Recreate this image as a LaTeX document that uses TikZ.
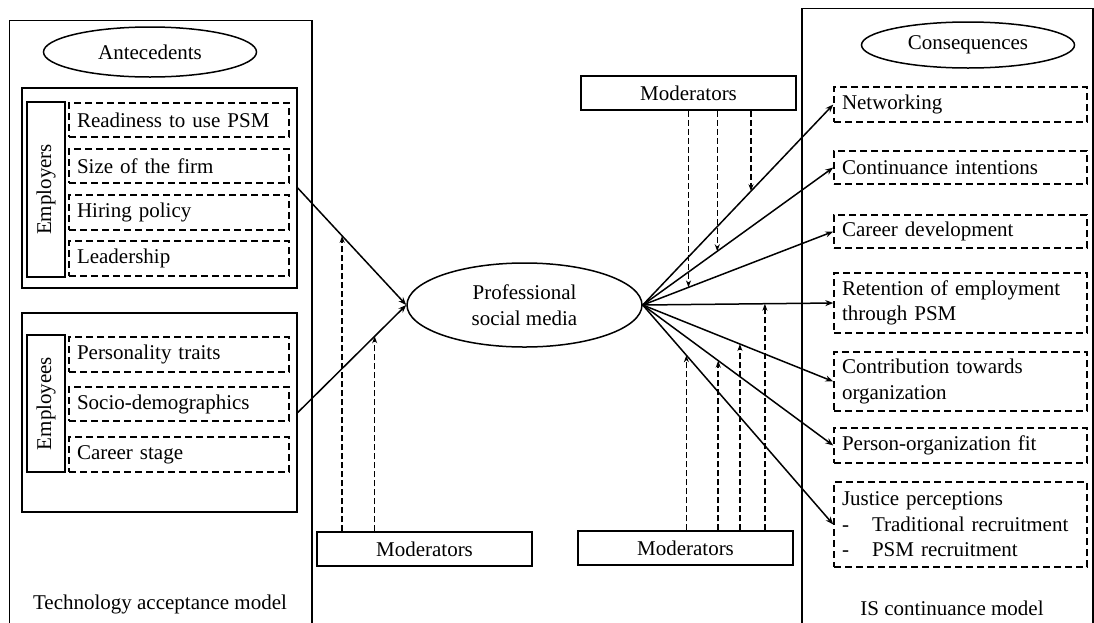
\documentclass[tikz,border=0pt]{standalone}
\usepackage{fontspec}
\setmainfont{Liberation Serif}
\usetikzlibrary{arrows.meta,shapes.geometric}
\begin{document}
\begin{tikzpicture}[x=1pt,y=-1pt,
  every node/.style={font=\fontsize{21}{25.5}\selectfont},
  ln/.style={line width=1.5pt},
  frame/.style={ln, draw, inner sep=0pt},
  oval/.style={ln, draw, ellipse, inner sep=0pt, align=center},
  dbox/.style={draw, line width=1.4pt, dash pattern=on 7pt off 4pt, inner xsep=8pt, inner ysep=0pt, align=left},
  ldbox/.style={dbox, text width=204pt},
  rdbox/.style={dbox, text width=237pt},
  arr/.style={ln, -{Stealth[length=8pt,width=6pt]}},
  darr/.style={line width=1.5pt, dash pattern=on 6pt off 3pt, -{Stealth[length=7pt,width=5pt]}}
]
\useasboundingbox (0,0) rectangle (1094,622);

% outer frames
\draw[ln] (9.5,630) -- (9.5,20.7) -- (312,20.7) -- (312,630);
\draw[ln] (802,630) -- (802,8.5) -- (1093,8.5) -- (1093,630);

% left side
\node[oval, minimum width=213pt, minimum height=50pt] (ante) at (150,52) {Antecedents};
\node[frame, minimum width=275pt, minimum height=200pt] (emprs) at (159.5,188) {};
\node[frame, rotate=90, minimum width=175pt, minimum height=38pt] (emprl) at (46,189.5) {Employers};
\node[ldbox, minimum height=34pt] (r1) at (179,120) {Readiness to use PSM};
\node[ldbox, minimum height=34pt] (r2) at (179,166) {Size of the firm};
\node[ldbox, minimum height=35pt] (r3) at (179,212.5) {Hiring policy};
\node[ldbox, minimum height=35pt] (r4) at (179,258.5) {Leadership};

\node[frame, minimum width=275pt, minimum height=199pt] (empes) at (159.5,412.5) {};
\node[frame, rotate=90, minimum width=137pt, minimum height=38pt] (empel) at (46,403.5) {Employees};
\node[ldbox, minimum height=35pt] (e1) at (179,354.5) {Personality traits};
\node[ldbox, minimum height=34pt] (e2) at (179,404) {Socio-demographics};
\node[ldbox, minimum height=35pt] (e3) at (179,454.5) {Career stage};

\node (tam) at (160,604) {Technology acceptance model};

% centre
\node[oval, minimum width=235pt, minimum height=84pt] (psm) at (524.5,305) {Professional\\social media};
\node[frame, minimum width=215pt, minimum height=34pt] (modbl) at (424.5,549) {Moderators};
\node[frame, minimum width=215pt, minimum height=34pt] (modt) at (688.5,93) {Moderators};
\node[frame, minimum width=215pt, minimum height=34pt] (modbr) at (685.5,548) {Moderators};

% right side
\node[oval, minimum width=213pt, minimum height=46pt] (cons) at (968,45) {Consequences};
\node[rdbox, minimum height=35pt] (c1) at (960.5,104.5) {Networking};
\node[rdbox, minimum height=33pt] (c2) at (960.5,167.5) {Continuance intentions};
\node[rdbox, minimum height=33pt] (c3) at (960.5,231.5) {Career development};
\node[rdbox, minimum height=60pt] (c4) at (960.5,303) {Retention of employment\\through PSM};
\node[rdbox, minimum height=59pt] (c5) at (960.5,381.5) {Contribution towards\\organization};
\node[rdbox, minimum height=35pt] (c6) at (960.5,445.5) {Person-organization fit};
\node[rdbox, minimum height=85pt] (c7) at (960.5,524.5) {Justice perceptions\\\makebox[30pt][l]{-}Traditional recruitment\\\makebox[30pt][l]{-}PSM recruitment};

\node (isc) at (952,608) {IS continuance model};

% main arrows
\draw[arr] (emprs.east) -- coordinate[pos=0.409] (ma1) (psm.west);
\draw[arr] (empes.east) -- coordinate[pos=0.709] (ma2) (psm.west);
\draw[arr] (psm.east) -- coordinate[pos=0.568] (mc1) (c1.west);
\draw[arr] (psm.east) -- coordinate[pos=0.391] (mc2) (c2.west);
\draw[arr] (psm.east) -- coordinate[pos=0.240] (mc3) (c3.west);
\draw[arr] (psm.east) -- coordinate[pos=0.641] (mc4) (c4.west);
\draw[arr] (psm.east) -- coordinate[pos=0.510] (mc5) (c5.west);
\draw[arr] (psm.east) -- coordinate[pos=0.396] (mc6) (c6.west);
\draw[arr] (psm.east) -- coordinate[pos=0.229] (mc7) (c7.west);

% moderator arrows
\draw[darr] (ma1 |- modbl.north) -- (ma1);
\draw[darr] (ma2 |- modbl.north) -- (ma2);
\draw[darr] (mc1 |- modt.south) -- (mc1);
\draw[darr] (mc2 |- modt.south) -- (mc2);
\draw[darr] (mc3 |- modt.south) -- (mc3);
\draw[darr] (mc4 |- modbr.north) -- (mc4);
\draw[darr] (mc5 |- modbr.north) -- (mc5);
\draw[darr] (mc6 |- modbr.north) -- (mc6);
\draw[darr] (mc7 |- modbr.north) -- (mc7);
\end{tikzpicture}
\end{document}
